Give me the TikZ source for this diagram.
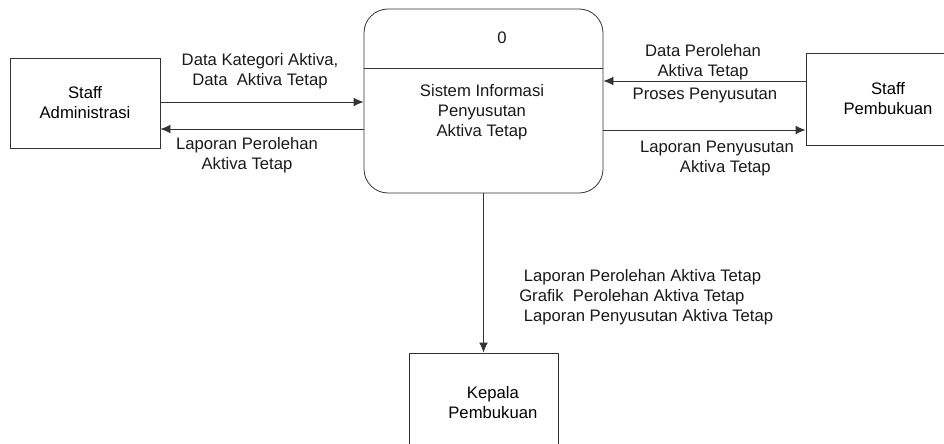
\documentclass[tikz,border=0pt]{standalone}
\usepackage{fontspec}
\setmainfont{Liberation Sans}
\usetikzlibrary{positioning,arrows.meta}

\tikzset{
  entity/.style={draw=black!80, line width=0.6pt, inner sep=0pt, align=center},
  process/.style={entity, rounded corners=18pt},
  flow/.style={-{Latex[length=7.5pt,width=6.5pt]}, draw=black!80, line width=0.6pt},
  flowlabel/.style={align=center, inner sep=0pt, text=black!90}
}

\begin{document}
\begin{tikzpicture}[x=0.75pt, y=-0.75pt,
    every node/.append style={font=\fontsize{12.5pt}{15pt}\selectfont}]
    \useasboundingbox (0,0) rectangle (944,443);
    \clip (0,0) rectangle (944,443);

    % entities and process
    \node[entity, minimum width=112.5pt, minimum height=67.5pt] (admin) at (85,103) {Staff\\Administrasi};
    \node[entity, minimum width=123pt, minimum height=69pt] (pembukuan) at (888,99) {Staff\\Pembukuan};
    \node[entity, minimum width=111.75pt, minimum height=75pt] (kepala) at (483.5,403) {\hspace*{14pt}Kepala\\\hspace*{14pt}Pembukuan};
    \node[process, minimum width=179.25pt, minimum height=138pt] (proc) at (483.5,101) {};
    \draw[draw=black!80, line width=0.6pt] (proc.west |- 0,68) -- (proc.east |- 0,68);
    \node[flowlabel] (procno) at (502,38) {0};
    \node[flowlabel] (procname) at (482,112) {Sistem Informasi\\Penyusutan\\Aktiva Tetap};

    % data flows
    \draw[flow] (admin.east |- 0,102) -- (proc.west |- 0,102);
    \draw[flow] (proc.west |- 0,129) -- (admin.east |- 0,129);
    \draw[flow] (pembukuan.west |- 0,81) -- (proc.east |- 0,81);
    \draw[flow] (proc.east |- 0,130) -- (pembukuan.west |- 0,130);
    \draw[flow] (proc.south) -- (kepala.north);

    % labels
    \node[flowlabel] (lbldata) at (260,71) {Data Kategori Aktiva,\\Data\ \ Aktiva Tetap};
    \node[flowlabel] (lbllapadmin) at (247,155) {Laporan Perolehan\\Aktiva Tetap};
    \node[flowlabel] (lblperolehan) at (703,62) {Data Perolehan\\Aktiva Tetap};
    \node[flowlabel] (lblproses) at (705,95) {Proses Penyusutan};
    \node[flowlabel] (lbllappeny) at (717,158) {Laporan Penyusutan\\\quad Aktiva Tetap};
    \node[flowlabel, align=left, anchor=west] (lblkepala) at (519,297)
      {\ Laporan Perolehan Aktiva Tetap\\Grafik\ \ Perolehan Aktiva Tetap\\\ Laporan Penyusutan Aktiva Tetap};
\end{tikzpicture}
\end{document}
